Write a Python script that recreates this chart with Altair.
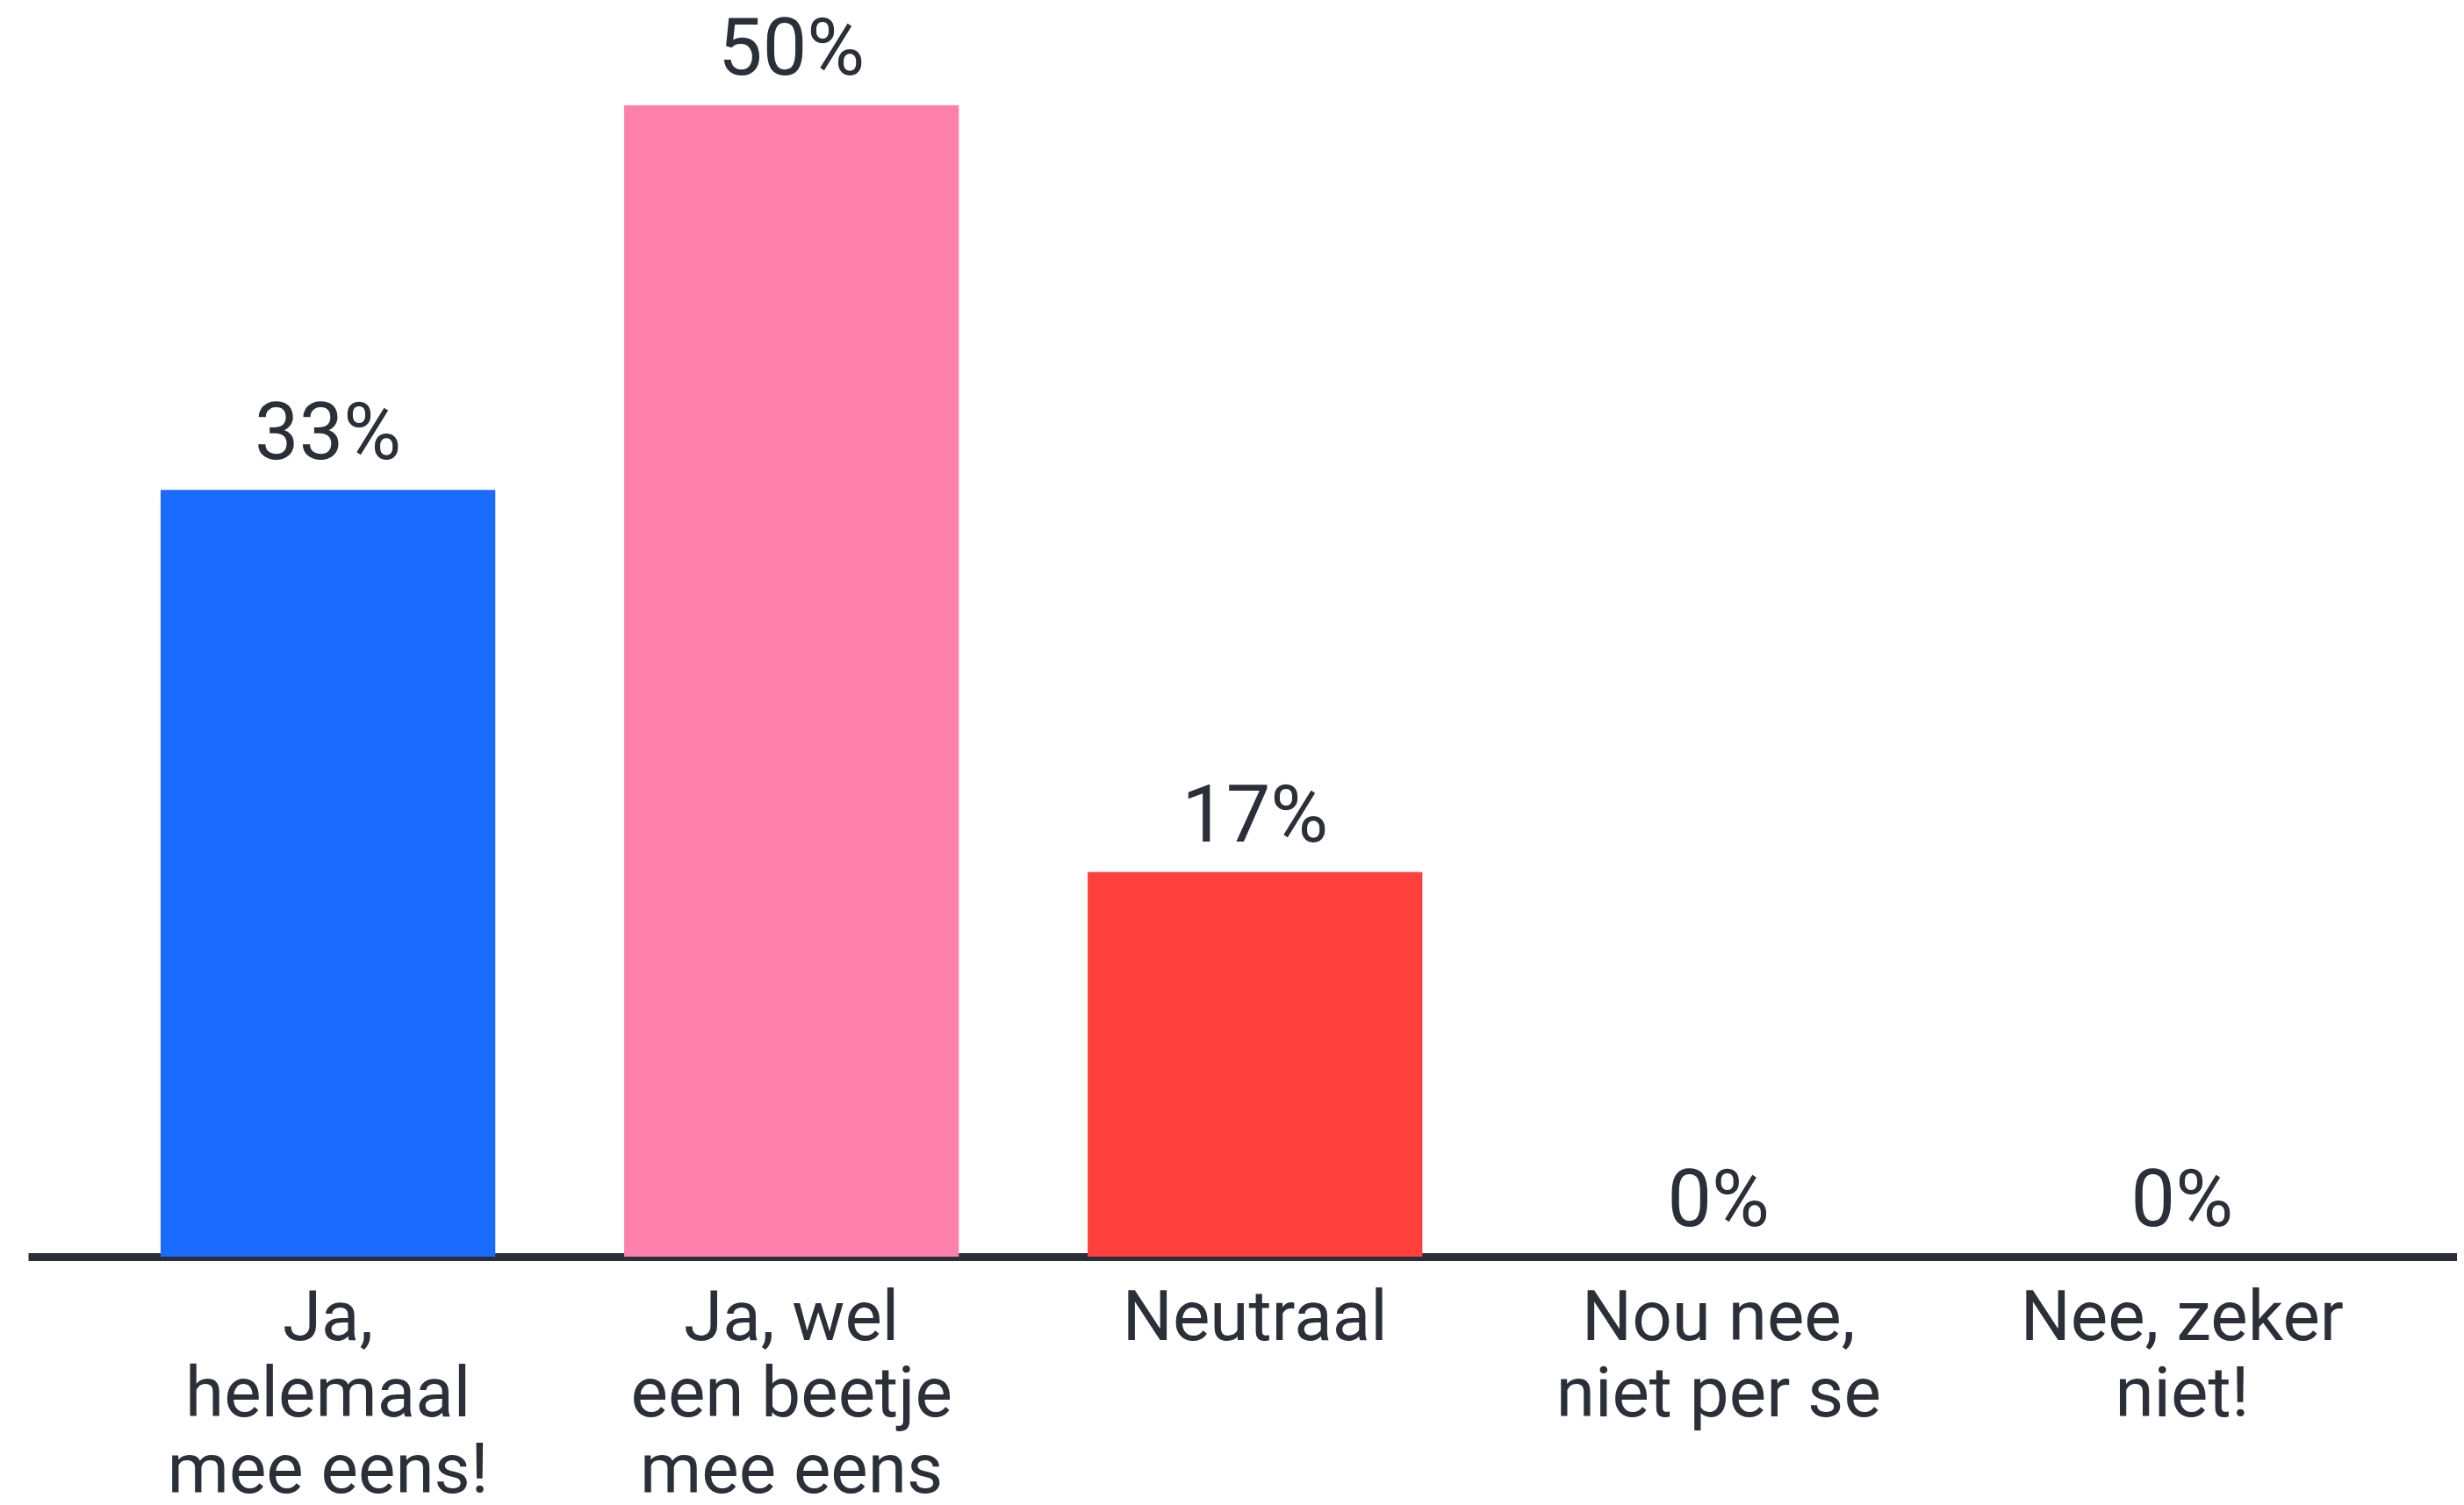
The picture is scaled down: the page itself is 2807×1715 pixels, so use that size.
import altair as alt
import pandas as pd

categories = ["Ja,|helemaal|mee eens!", "Ja, wel|een beetje|mee eens", "Neutraal",
              "Nou nee,|niet per se", "Nee, zeker|niet!"]
values = [33.3, 50.0, 16.7, 0.0, 0.0]
colors = ["#1C6BFF", "#FF80AB", "#FF403C", "#2B2F38", "#2B2F38"]

df = pd.DataFrame({"cat": categories, "value": values, "color": colors})

FONT = "Roboto"
TXT = "#2B2F38"

x = alt.X("cat:N", sort=categories,
          scale=alt.Scale(paddingInner=0.278, paddingOuter=0.259, align=0.552),
          axis=alt.Axis(title=None, labelAngle=0, ticks=False, tickSize=0,
                        domainColor=TXT, domainWidth=9,
                        labelFont=FONT, labelFontSize=80, labelColor=TXT,
                        labelBaseline="alphabetic", labelPadding=94,
                        labelLineHeight=87, labelAlign="center", labelLimit=0,
                        labelOverlap=False,
                        labelExpr="split(datum.label, '|')"))
y = alt.Y("value:Q", scale=alt.Scale(domain=[0, 54], nice=False), axis=None)

base = alt.Chart(df).encode(x=x, y=y)

bars = base.mark_bar().encode(color=alt.Color("color:N", scale=None))
labels = base.transform_calculate(
    lab="format(datum.value, '.0f') + '%'"
).mark_text(baseline="alphabetic", dy=-35, font=FONT, fontSize=90, color=TXT).encode(
    text="lab:N")

chart = (bars + labels).properties(
    width=2767, height=1417,
    padding={"left": 24, "top": 7, "right": 0, "bottom": 272},
    autosize=alt.AutoSizeParams(type="none"),
    background="white",
).configure_view(stroke=None)

chart.save("out.html", embed_options={"renderer": "svg", "actions": False})
